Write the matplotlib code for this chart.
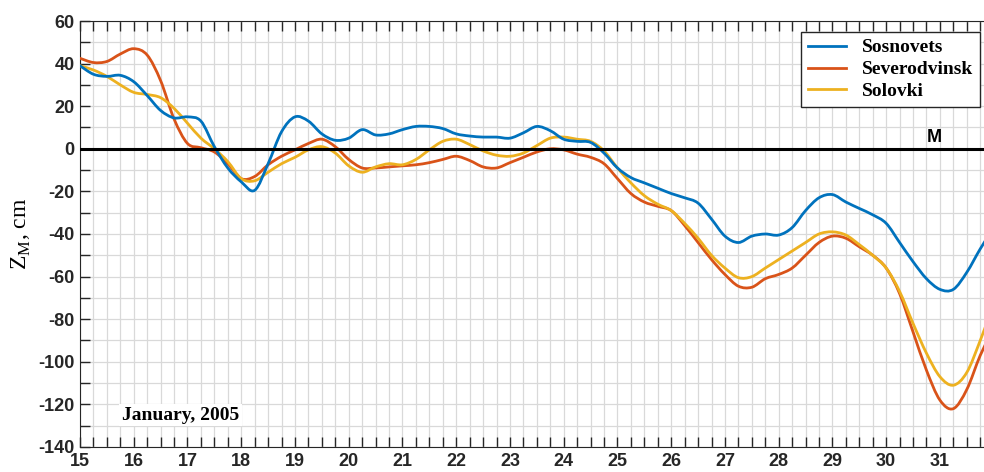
import numpy as np
import matplotlib
matplotlib.use("Agg")
import matplotlib.pyplot as plt
from matplotlib.ticker import MultipleLocator
from matplotlib.path import Path
from matplotlib.patches import PathPatch

plt.rcParams["axes.unicode_minus"] = False

# days of January 2005, sampled every 6 hours
days = np.arange(15, 32.01, 0.25)

sosnovets = [39, 35, 34, 34.5, 31.5, 25, 18, 14.5, 15, 13, 1, -9,
             -15.5, -19.5, -7, 8, 15, 13, 7, 4, 5, 9, 6.5, 7,
             9, 10.5, 10.5, 9.5, 7, 6, 5.5, 5.5, 5, 7.5, 10.5, 8.5,
             4.5, 3.5, 3, -2, -9, -13.5, -16, -18.5, -21, -23, -25.5, -33,
             -41, -44, -41, -40, -40.5, -37, -29, -23, -21.5, -25, -28, -31,
             -35, -44, -53, -61, -66, -66, -58, -47, -37]

severodvinsk = [42.5, 40.5, 41, 44.5, 47, 44, 32, 14, 2.5, 0.5, -1.5, -7,
                -14, -13, -7.5, -3.5, -0.5, 2.5, 4.5, 1, -5, -9, -9, -8.5,
                -8, -7.5, -6.5, -5, -3.5, -5.5, -8.5, -9, -6.5, -4, -1.5, 0,
                -0.5, -2.5, -4, -7, -14, -21, -25, -27, -29, -36, -44, -52,
                -59, -64.5, -65, -61, -59, -56, -50, -44, -41, -42, -46, -50,
                -56, -68, -86, -104, -118, -122, -113, -97, -84]

solovki = [39, 37, 34, 30, 26.5, 25.5, 24, 19, 12, 5, 0, -6,
           -14, -15, -11, -7, -4, -0.5, 1, -2, -8, -11, -8.5, -7,
           -7.5, -5, -0.5, 3.5, 4.5, 2, -1, -3, -3.5, -2, 1.5, 5,
           5.5, 4.5, 3.5, -1, -9, -16, -22, -26, -29, -35, -42, -50,
           -56, -60.5, -60, -56, -52, -48, -44, -40, -39, -40.5, -45, -50,
           -56, -67, -82, -96, -107, -111, -105, -90, -73]


def curve(x, y):
    # smooth bezier path passing through the read points
    pts = np.column_stack([x, y]).astype(float)
    n = len(pts)
    verts = [pts[0]]
    codes = [Path.MOVETO]
    for i in range(n - 1):
        p0 = pts[max(i - 1, 0)]
        p1 = pts[i]
        p2 = pts[i + 1]
        p3 = pts[min(i + 2, n - 1)]
        verts += [p1 + (p2 - p0) / 6, p2 - (p3 - p1) / 6, p2]
        codes += [Path.CURVE4] * 3
    return Path(verts, codes)


fig = plt.figure(figsize=(9.84, 4.72), dpi=100)
ax = fig.add_axes([0.0813, 0.053, 0.9187, 0.9025])

series = [("Sosnovets", sosnovets, "#0072BD", 4),
          ("Severodvinsk", severodvinsk, "#D95319", 3),
          ("Solovki", solovki, "#EDB120", 3)]
for name, vals, col, z in series:
    ax.add_patch(PathPatch(curve(days, vals), facecolor="none", edgecolor=col,
                           lw=2, zorder=z, capstyle="round", joinstyle="round"))
    ax.plot([], [], color=col, lw=2, label=name)
ax.axhline(0, color="black", lw=2.2, zorder=5)

ax.set_xlim(15, 31.82)
ax.set_ylim(-140, 60)
ax.xaxis.set_major_locator(MultipleLocator(1))
ax.xaxis.set_minor_locator(MultipleLocator(0.25))
ax.yaxis.set_major_locator(MultipleLocator(20))
ax.yaxis.set_minor_locator(MultipleLocator(10))
ax.grid(True, which="both", color="#d9d9d9", lw=0.9)
ax.set_axisbelow(True)
ax.tick_params(which="both", direction="in", top=True, right=False,
               length=7, width=1, color="#262626")
ax.tick_params(which="major", labelsize=13, labelcolor="#262626", pad=4)
for lab in ax.get_xticklabels() + ax.get_yticklabels():
    lab.set_fontweight("bold")
    lab.set_family("Liberation Sans")
ax.spines["right"].set_visible(False)
for s in ["left", "top", "bottom"]:
    ax.spines[s].set_color("#262626")

ax.set_ylabel(r"Z$_\mathregular{M}$, cm", family="Liberation Serif", fontsize=17, labelpad=4)

leg = ax.legend(loc="upper right", bbox_to_anchor=(0.9956, 0.974), borderaxespad=0,
                fancybox=False, edgecolor="#262626", framealpha=1, handlelength=2.0,
                borderpad=0.35, labelspacing=0.22, handletextpad=0.8,
                prop={"family": "Liberation Serif", "weight": "bold", "size": 14})
leg.set_zorder(6)

ax.text(30.9, 1.5, "M", family="Liberation Sans", fontweight="bold",
        fontsize=13, ha="center", va="bottom", zorder=6)
ax.text(15.78, -125, "January, 2005", family="Liberation Serif", fontweight="bold",
        fontsize=14, ha="left", va="center", zorder=6,
        bbox=dict(facecolor="white", edgecolor="none", pad=2))

fig.savefig("out.png", dpi=100)
